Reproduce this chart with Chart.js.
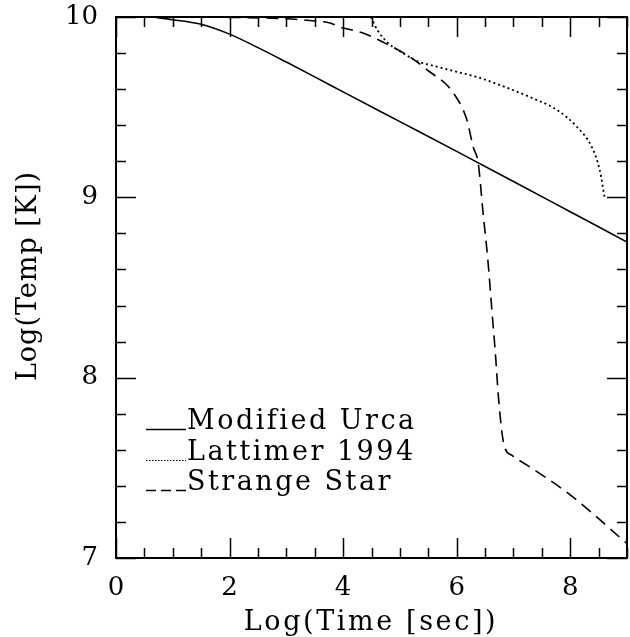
<!DOCTYPE html>
<html>
<head>
<meta charset="utf-8">
<script src="https://cdn.jsdelivr.net/npm/chart.js@4.4.0/dist/chart.umd.min.js"></script>
<style>
  html, body { margin: 0; padding: 0; background: #fff; }
  #wrap { width: 630px; height: 637px; }
</style>
</head>
<body>
<div id="wrap"><canvas id="coolingChart"></canvas></div>
<script>
// Modified Urca (solid)
const urcaLogTime = [0.64, 1.0, 1.48, 2.0, 2.5, 3.0, 3.5, 4.0, 5.0, 6.0, 7.0, 8.0, 9.0];
const urcaLogTemp = [10.0, 9.985, 9.961, 9.905, 9.83, 9.75, 9.668, 9.585, 9.42, 9.255, 9.088, 8.92, 8.752];

// Lattimer 1994 (dotted)
const lattLogTime = [4.49, 4.6, 4.79, 5.0, 5.23, 5.35, 5.53, 5.88, 6.41, 6.85, 7.29, 7.77, 8.12, 8.38, 8.52, 8.61];
const lattLogTemp = [10.0, 9.93, 9.856, 9.81, 9.767, 9.75, 9.734, 9.706, 9.662, 9.612, 9.556, 9.484, 9.39, 9.279, 9.151, 8.99];

// Strange Star (dashed)
const starLogTime = [0.64, 2.0, 3.0, 3.5, 3.77, 3.94, 4.35, 4.7, 5.18, 5.53, 5.79, 5.94, 6.18, 6.29, 6.38, 6.46, 6.55, 6.62, 6.69, 6.73, 6.80, 6.85, 6.97, 7.24, 8.0, 9.0];
const starLogTemp = [10.0, 9.998, 9.99, 9.978, 9.967, 9.945, 9.911, 9.861, 9.778, 9.695, 9.634, 9.58, 9.43, 9.28, 9.19, 8.93, 8.65, 8.375, 8.10, 7.915, 7.69, 7.61, 7.57, 7.515, 7.35, 7.08];

const xTickLabels = [0, 2, 4, 6, 8];
const yTickLabels = [7, 8, 9, 10];

const seriesNames = ['Modified Urca', 'Lattimer 1994', 'Strange Star'];
const xTitle = 'Log(Time [sec])';
const yTitle = 'Log(Temp [K])';

const serif = "'DejaVu Serif', 'Liberation Serif', serif";

function toPoints(xs, ys) {
    return xs.map(function(x, i) { return { x: x, y: ys[i] }; });
}

// box frame with inward ticks on all four sides, plus axis titles
const frameTicks = {
    id: 'frameTicks',
    beforeDraw(chart) {
        chart.ctx.letterSpacing = '0px';
    },
    afterDatasetsDraw(chart) {
        const ctx = chart.ctx;
        const a = chart.chartArea;
        const xs = chart.scales.x;
        const ys = chart.scales.y;
        ctx.save();
        ctx.strokeStyle = '#000';
        ctx.lineWidth = 1.5;
        ctx.beginPath();
        for (let i = 0; i <= 18; i++) {
            const px = Math.round(xs.getPixelForValue(i * 0.5)) + 0.5;
            const len = (i % 4 === 0) ? 20 : 10;
            ctx.moveTo(px, a.bottom); ctx.lineTo(px, a.bottom - len);
            ctx.moveTo(px, a.top); ctx.lineTo(px, a.top + len);
        }
        for (let j = 0; j <= 15; j++) {
            const py = Math.round(ys.getPixelForValue(7 + j * 0.2)) + 0.5;
            const len = (j % 5 === 0) ? 20 : 10;
            ctx.moveTo(a.left, py); ctx.lineTo(a.left + len, py);
            ctx.moveTo(a.right, py); ctx.lineTo(a.right - len, py);
        }
        ctx.stroke();
        ctx.lineWidth = 2;
        ctx.strokeRect(a.left, a.top, a.right - a.left, a.bottom - a.top);

        // axis titles
        ctx.fillStyle = '#000';
        ctx.font = '27px ' + serif;
        ctx.textAlign = 'center';
        ctx.textBaseline = 'alphabetic';
        ctx.letterSpacing = '2.6px';
        ctx.fillText(xTitle, 371, 630);
        ctx.letterSpacing = '1px';
        ctx.translate(36, 276);
        ctx.rotate(-Math.PI / 2);
        ctx.fillText(yTitle, 0, 0);
        ctx.restore();
    }
};

// legend drawn inside the plot, lower left
const insideLegend = {
    id: 'insideLegend',
    afterDraw(chart) {
        const ctx = chart.ctx;
        const baselines = [429, 460, 490];
        ctx.save();
        ctx.font = '27px ' + serif;
        ctx.letterSpacing = '2.5px';
        ctx.fillStyle = '#000';
        ctx.textBaseline = 'alphabetic';
        ctx.textAlign = 'left';
        chart.data.datasets.forEach(function(ds, i) {
            const y = baselines[i] + 0.5;
            ctx.strokeStyle = '#000';
            ctx.lineWidth = ds.legendWidth;
            ctx.setLineDash(ds.legendDash);
            ctx.beginPath();
            ctx.moveTo(146, y);
            ctx.lineTo(186, y);
            ctx.stroke();
            ctx.setLineDash([]);
            ctx.fillText(ds.label, 187, baselines[i]);
        });
        ctx.restore();
    }
};

const ctx = document.getElementById('coolingChart').getContext('2d');
const coolingChart = new Chart(ctx, {
    type: 'line',
    data: {
        datasets: [{
            label: seriesNames[0],
            data: toPoints(urcaLogTime, urcaLogTemp),
            borderColor: '#000',
            borderWidth: 1.6,
            borderDash: [],
            legendDash: [],
            legendWidth: 1.5
        }, {
            label: seriesNames[1],
            data: toPoints(lattLogTime, lattLogTemp),
            borderColor: '#000',
            borderWidth: 1.8,
            borderDash: [2, 3],
            legendDash: [1.5, 1.5],
            legendWidth: 1.2
        }, {
            label: seriesNames[2],
            data: toPoints(starLogTime, starLogTemp),
            borderColor: '#000',
            borderWidth: 1.6,
            borderDash: [12, 7],
            legendDash: [10, 5],
            legendWidth: 1.5
        }]
    },
    options: {
        responsive: true,
        maintainAspectRatio: false,
        animation: false,
        devicePixelRatio: 1,
        elements: {
            point: { radius: 0 },
            line: { cubicInterpolationMode: 'monotone', fill: false }
        },
        layout: {
            padding: { top: 0, right: 3, left: 0, bottom: 0 }
        },
        plugins: {
            legend: { display: false },
            tooltip: { enabled: false },
            title: { display: false }
        },
        scales: {
            x: {
                type: 'linear',
                min: 0,
                max: 9,
                grid: { display: false, drawTicks: false },
                border: { display: false },
                afterFit: function(scale) {
                    scale.height = 79;
                    scale.paddingLeft = 0;
                    scale.paddingRight = 0;
                },
                afterBuildTicks: function(scale) {
                    scale.ticks = xTickLabels.map(function(v) { return { value: v }; });
                },
                ticks: {
                    color: '#000',
                    padding: 15,
                    maxRotation: 0,
                    font: { family: serif, size: 26, lineHeight: 1.2 }
                }
            },
            y: {
                type: 'linear',
                min: 7,
                max: 10,
                grid: { display: false, drawTicks: false },
                border: { display: false },
                afterFit: function(scale) {
                    scale.width = 116;
                    scale.paddingTop = 17;
                    scale.paddingBottom = 0;
                },
                afterBuildTicks: function(scale) {
                    scale.ticks = yTickLabels.map(function(v) { return { value: v }; });
                },
                ticks: {
                    color: '#000',
                    padding: 18,
                    font: { family: serif, size: 26, lineHeight: 1.2 }
                }
            }
        }
    },
    plugins: [frameTicks, insideLegend]
});
</script>
</body>
</html>
